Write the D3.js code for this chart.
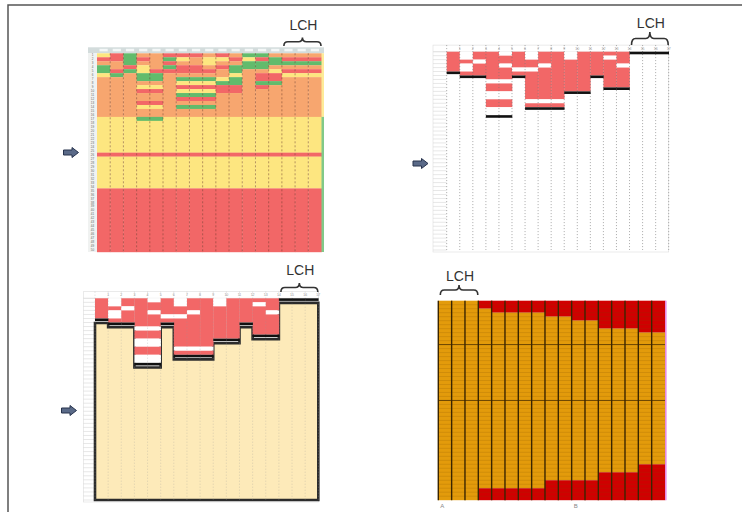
<!DOCTYPE html>
<html>
<head>
<meta charset="utf-8">
<script src="https://cdn.jsdelivr.net/npm/d3@7"></script>
<style>
  html, body { margin: 0; padding: 0; background: #fff; }
  svg { display: block; font-family: "Liberation Sans", Arial, sans-serif; }
</style>
</head>
<body>
<div id="chart"></div>
<script>
// ---------- data ----------
const columns = d3.range(1, 18).map(String);   // 17 sheet columns
const nRows = 50;
const lchRight = ["15", "16", "17"];
const lchLeft = ["1", "2", "3"];

// panel 1: codes for the top rows of each column (O orange, Y yellow, R red, G green)
const heatTop = [
  "YROGGYOOOOOOOOOO",
  "RROORGOOOOOOOOOO",
  "GGGRGOOOOOOOOOOO",
  "OROYYGGOYROORYOOG",
  "OOOORGGOYROORYOOG",
  "RGRGROOOOOOOOOOO",
  "RYORROGYRYGROGOO",
  "ROORROGYRYGROGOO",
  "OYYOROGYRYGROGOO",
  "RYOROOYGRROOOOOO",
  "OROGGYGGRROOOOOO",
  "GYGGOOOOOOOOOOOO",
  "GRGGORRGROOOOOOO",
  "OGGOYRRGOOOOOOOO",
  "ORGORYOOOOOOOOOO",
  "ORGORYOOOOOOOOOO",
  "ORGORYOOOOOOOOOO"
];
// lower bands shared by all columns (later entries win)
const heatBands = [
  { code: "O", from: 0, to: 16 },
  { code: "Y", from: 16, to: 34 },
  { code: "R", from: 25, to: 26 },
  { code: "R", from: 34, to: 50 }
];
const edgeStrip = [
  { code: "Y", from: 0, to: 16 },
  { code: "G", from: 16, to: 50 }
];

// panels 2 and 3: depth of the red block per column, and blank rows inside it
const blockDepth = [5, 6, 6, 16, 16, 6, 14, 14, 14, 10, 10, 6, 9, 9, 0, 0, 0];
const blockBlank = [
  [], [0, 1, 3, 4], [2], [7, 10, 11, 14, 15], [0, 3, 7, 10, 11, 14, 15], [4],
  [0, 1, 4, 12], [3, 12], [12], [0, 1], [], [], [1], [3], [], [], []
];

// panel 4: red rows at top and bottom of each column
const redTop = [0, 0, 0, 2, 3, 3, 3, 3, 4, 4, 5, 5, 7, 7, 7, 8, 8];
const redBottom = [0, 0, 0, 3, 3, 3, 3, 3, 5, 5, 5, 5, 7, 7, 7, 9, 9];
const bottomLabels = [{ col: "1", text: "A" }, { col: "11", text: "B" }];

// ---------- layout ----------
const layout = {
  heat:   { x: [97, 321.5],    y: [53.3, 252] },
  blocks: { x: [446.7, 668.7], y: [51.7, 250] },
  filled: { x: [95, 318.3],    y: [298.3, 500] },
  ratio:  { x: [438.3, 665],   y: [300.7, 500.2] }
};

const heatColor = { O: "#f7a66f", Y: "#fde680", R: "#f26767", G: "#62bb6c" };
const blockRed = "#f26767";

function scales(p) {
  return {
    x: d3.scaleBand().domain(columns).range(p.x),
    y: d3.scaleLinear().domain([0, nRows]).range(p.y)
  };
}

function runs(codes) {
  const out = [];
  codes.forEach((c, r) => {
    const last = out[out.length - 1];
    if (last && last.code === c) last.to = r + 1;
    else out.push({ code: c, from: r, to: r + 1 });
  });
  return out;
}

const svg = d3.select("#chart").append("svg").attr("width", 742).attr("height", 517);

// page frame
svg.append("path").attr("d", "M8,512 L8,5 L742,5")
  .attr("fill", "none").attr("stroke", "#555").attr("stroke-width", 1.5);

function arrow(cx, cy) {
  const p = d3.path();
  p.moveTo(cx - 7.5, cy - 2.5); p.lineTo(cx + 1, cy - 2.5); p.lineTo(cx + 1, cy - 5);
  p.lineTo(cx + 7.5, cy); p.lineTo(cx + 1, cy + 5); p.lineTo(cx + 1, cy + 2.5);
  p.lineTo(cx - 7.5, cy + 2.5); p.closePath();
  svg.append("path").attr("d", p.toString())
    .attr("fill", "#5a6a88").attr("stroke", "#26324d").attr("stroke-width", 1);
}

function lchLabel(sc, cols, yText, yTip, yEnd) {
  const x0 = sc.x(cols[0]) + 2, x1 = sc.x(cols[cols.length - 1]) + sc.x.bandwidth() - 0.5;
  const xm = (x0 + x1) / 2, ym = (yTip + yEnd) / 2, r = 4;
  const p = d3.path();
  p.moveTo(x0, yEnd); p.quadraticCurveTo(x0, ym, x0 + r, ym);
  p.lineTo(xm - r, ym); p.quadraticCurveTo(xm, ym, xm, yTip);
  p.quadraticCurveTo(xm, ym, xm + r, ym); p.lineTo(x1 - r, ym);
  p.quadraticCurveTo(x1, ym, x1, yEnd);
  svg.append("path").attr("d", p.toString()).attr("fill", "none")
    .attr("stroke", "#333").attr("stroke-width", 1.6);
  svg.append("text").attr("x", xm + 1).attr("y", yText).attr("text-anchor", "middle")
    .attr("font-size", 14).attr("fill", "#333").text("LCH");
}

function sheetFrame(g, sc, headerW) {
  const [xa, xb] = sc.x.range(), [ya, yb] = sc.y.range();
  const hx = xa - headerW, hy = ya - 6.6;
  g.append("rect").attr("x", hx).attr("y", hy).attr("width", xb - hx).attr("height", yb - hy + 2)
    .attr("fill", "#fff").attr("stroke", "#ddd").attr("stroke-width", 0.6);
  g.selectAll(".rowline").data(d3.range(nRows + 1)).join("line")
    .attr("x1", hx).attr("x2", xa).attr("y1", d => sc.y(d)).attr("y2", d => sc.y(d))
    .attr("stroke", "#d6d6d6").attr("stroke-width", 0.6);
  g.append("line").attr("x1", hx).attr("x2", xb).attr("y1", ya).attr("y2", ya)
    .attr("stroke", "#ddd").attr("stroke-width", 0.6);
  g.selectAll(".colnum").data(columns).join("text")
    .attr("x", d => sc.x(d) + sc.x.bandwidth()).attr("y", ya - 2)
    .attr("text-anchor", "middle").attr("font-size", 3.5).attr("fill", "#999").text(d => d);
}

function colDots(g, sc, color, opacity, top) {
  g.selectAll(".coldot").data(columns.concat(["end"])).join("line")
    .attr("x1", d => d === "end" ? sc.x.range()[1] : sc.x(d))
    .attr("x2", d => d === "end" ? sc.x.range()[1] : sc.x(d))
    .attr("y1", top).attr("y2", sc.y(nRows))
    .attr("stroke", color).attr("stroke-opacity", opacity)
    .attr("stroke-width", 0.8).attr("stroke-dasharray", "1,2");
}

function drawBlocks(g, sc) {
  columns.forEach((c, i) => {
    const codes = d3.range(blockDepth[i]).map(r => blockBlank[i].includes(r) ? "W" : "R");
    g.selectAll(null).data(runs(codes)).join("rect")
      .attr("x", sc.x(c)).attr("y", d => sc.y(d.from))
      .attr("width", sc.x.bandwidth() + 0.3).attr("height", d => sc.y(d.to) - sc.y(d.from))
      .attr("fill", d => d.code === "W" ? "#fff" : blockRed);
  });
}

function blockCaps(g, sc) {
  g.selectAll(".cap").data(columns).join("rect")
    .attr("x", d => sc.x(d)).attr("y", (d, i) => sc.y(blockDepth[i]))
    .attr("width", sc.x.bandwidth() + 0.3).attr("height", 2.6).attr("fill", "#111");
}

// ---------- panel 1: coloured sheet ----------
{
  const sc = scales(layout.heat);
  const g = svg.append("g");
  const [xa, xb] = sc.x.range(), [ya, yb] = sc.y.range();
  g.append("rect").attr("x", xa - 9).attr("y", ya - 6).attr("width", xb - xa + 11.5).attr("height", 6)
    .attr("fill", "#d3dcdc");
  g.selectAll(".hcell").data(columns).join("rect")
    .attr("x", d => sc.x(d) + 2.5).attr("y", ya - 4.5).attr("width", sc.x.bandwidth() - 5).attr("height", 2.5)
    .attr("fill", "#f4f7f7");
  g.append("rect").attr("x", xa - 9).attr("y", ya).attr("width", 9).attr("height", yb - ya)
    .attr("fill", "#f0f2f1");
  g.selectAll(".rownum").data(d3.range(nRows)).join("text")
    .attr("x", xa - 4.5).attr("y", d => sc.y(d + 0.8)).attr("text-anchor", "middle")
    .attr("font-size", 3).attr("fill", "#666").text(d => d + 1);

  columns.forEach((c, i) => {
    const codes = d3.range(nRows).map(r => {
      if (r < heatTop[i].length) return heatTop[i][r];
      let code = "O";
      heatBands.forEach(b => { if (r >= b.from && r < b.to) code = b.code; });
      return code;
    });
    g.selectAll(null).data(runs(codes)).join("rect")
      .attr("x", sc.x(c)).attr("y", d => sc.y(d.from))
      .attr("width", sc.x.bandwidth() + 0.3).attr("height", d => sc.y(d.to) - sc.y(d.from) + 0.2)
      .attr("fill", d => heatColor[d.code]);
  });
  g.selectAll(".strip").data(edgeStrip).join("rect")
    .attr("x", xb).attr("y", d => sc.y(d.from)).attr("width", 2.5)
    .attr("height", d => sc.y(d.to) - sc.y(d.from))
    .attr("fill", d => heatColor[d.code]).attr("opacity", 0.8);
  g.selectAll(".sep").data(columns.slice(1)).join("line")
    .attr("x1", d => sc.x(d)).attr("x2", d => sc.x(d)).attr("y1", ya).attr("y2", yb)
    .attr("stroke", "#6b3a2a").attr("stroke-opacity", 0.55)
    .attr("stroke-width", 0.9).attr("stroke-dasharray", "2,2");
  lchLabel(sc, lchRight, 30, 37.5, 46);
  arrow(71, 152.5);
}

// ---------- panel 2: red blocks ----------
{
  const sc = scales(layout.blocks);
  const g = svg.append("g");
  sheetFrame(g, sc, 13.7);
  drawBlocks(g, sc);
  colDots(g, sc, "#777", 0.8, sc.y(0) - 6.6);
  blockCaps(g, sc);
  lchLabel(sc, lchRight, 27.5, 32, 45);
  arrow(420.5, 163.5);
}

// ---------- panel 3: red blocks with filled area below ----------
{
  const sc = scales(layout.filled);
  const g = svg.append("g");
  sheetFrame(g, sc, 11.7);
  const gap = 4.6;
  const pts = [[sc.x.range()[0], sc.y(nRows)]];
  columns.forEach((c, i) => {
    pts.push([sc.x(c), sc.y(blockDepth[i]) + gap]);
    pts.push([sc.x(c) + sc.x.bandwidth(), sc.y(blockDepth[i]) + gap]);
  });
  pts.push([sc.x.range()[1], sc.y(nRows)]);
  g.append("path").attr("d", d3.line()(pts) + "Z")
    .attr("fill", "#fdeab9").attr("stroke", "#2b2b2b").attr("stroke-width", 2.6)
    .attr("stroke-linejoin", "miter");
  drawBlocks(g, sc);
  colDots(g, sc, "#999", 0.45, sc.y(0) - 6.6);
  blockCaps(g, sc);
  lchLabel(sc, lchRight, 275, 283, 292);
  arrow(69, 410.5);
}

// ---------- panel 4: orange/red ratio columns ----------
{
  const sc = scales(layout.ratio);
  const g = svg.append("g");
  const [xa, xb] = sc.x.range(), [ya, yb] = sc.y.range();
  columns.forEach((c, i) => {
    const codes = d3.range(nRows).map(r => (r < redTop[i] || r >= nRows - redBottom[i]) ? "R" : "O");
    g.selectAll(null).data(runs(codes)).join("rect")
      .attr("x", sc.x(c)).attr("y", d => sc.y(d.from))
      .attr("width", sc.x.bandwidth() + 0.3).attr("height", d => sc.y(d.to) - sc.y(d.from))
      .attr("fill", d => d.code === "R" ? "#d00000" : "#e39b0b");
  });
  g.selectAll(".rl").data(d3.range(1, nRows)).join("line")
    .attr("x1", xa).attr("x2", xb).attr("y1", d => sc.y(d)).attr("y2", d => sc.y(d))
    .attr("stroke", d => (d === 11 || d === 25) ? "#4a2e00" : "#7a4a00")
    .attr("stroke-opacity", d => (d === 11 || d === 25) ? 0.9 : 0.35)
    .attr("stroke-width", d => (d === 11 || d === 25) ? 0.9 : 0.5);
  g.selectAll(".cl").data(columns).join("line")
    .attr("x1", d => sc.x(d)).attr("x2", d => sc.x(d)).attr("y1", ya).attr("y2", yb)
    .attr("stroke", "#3a2500").attr("stroke-width", 1.4);
  g.append("rect").attr("x", xb).attr("y", ya).attr("width", 1.6).attr("height", yb - ya)
    .attr("fill", "#e48ae4");
  g.selectAll(".bl").data(bottomLabels).join("text")
    .attr("x", d => sc.x(d.col) + 4).attr("y", yb + 7.5).attr("text-anchor", "middle")
    .attr("font-size", 6).attr("fill", "#888").text(d => d.text);
  lchLabel(sc, lchLeft, 280.5, 285, 295);
}
</script>
</body>
</html>
